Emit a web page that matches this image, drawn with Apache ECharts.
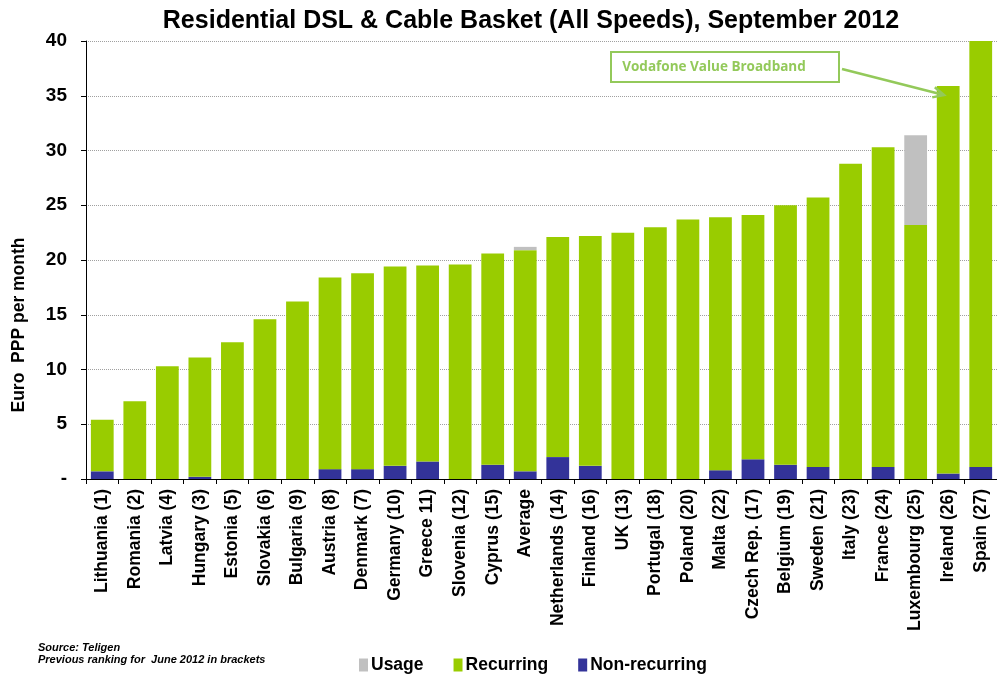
<!DOCTYPE html>
<html>
<head>
<meta charset="utf-8">
<script src="https://cdn.jsdelivr.net/npm/echarts@6/dist/echarts.min.js"></script>
<style>
html,body{margin:0;padding:0;background:#fff;}
#c{width:997px;height:675px;}
</style>
</head>
<body>
<div id="c"></div>
<script>
const categories = ['Lithuania (1)','Romania (2)','Latvia (4)','Hungary (3)','Estonia (5)','Slovakia (6)','Bulgaria (9)','Austria (8)','Denmark (7)','Germany (10)','Greece 11)','Slovenia (12)','Cyprus (15)','Average','Netherlands (14)','Finland (16)','UK (13)','Portugal (18)','Poland (20)','Malta (22)','Czech Rep. (17)','Belgium (19)','Sweden (21)','Italy (23)','France (24)','Luxembourg (25)','Ireland (26)','Spain (27)'];
const nonRecurring = [0.7,0,0,0.2,0,0,0,0.9,0.9,1.2,1.6,0,1.3,0.7,2.0,1.2,0,0,0,0.8,1.8,1.3,1.1,0,1.1,0,0.5,1.1];
const recurring    = [4.7,7.1,10.3,10.9,12.5,14.6,16.2,17.5,17.9,18.2,17.9,19.6,19.3,20.2,20.1,21.0,22.5,23.0,23.7,23.1,22.3,23.7,24.6,28.8,29.2,23.2,35.4,38.9];
const usage        = [0,0,0,0,0,0,0,0,0,0,0,0,0,0.3,0,0,0,0,0,0,0,0,0,0,0,8.2,0,0];
const yTicks = [0,5,10,15,20,25,30,35,40];

const chart = echarts.init(document.getElementById('c'));
const FONT = 'Liberation Sans, Arial, sans-serif';
const NARROW = '"Liberation Sans Narrow", "Arial Narrow", Liberation Sans, sans-serif';
const annGreen = '#93c95a';

function arrowHead(x1,y1,x2,y2,len,ang){
  const a = Math.atan2(y2-y1,x2-x1);
  return [[x2-len*Math.cos(a-ang), y2-len*Math.sin(a-ang)],[x2,y2],[x2-len*Math.cos(a+ang), y2-len*Math.sin(a+ang)]];
}

chart.setOption({
  animation:false,
  backgroundColor:'#fff',
  title:{
    text:'Residential DSL & Cable Basket (All Speeds), September 2012',
    left:526, top:4, textAlign:'center',
    textStyle:{fontFamily:FONT,fontWeight:'bold',fontSize:25,color:'#000'}
  },
  legend:{
    data:['Usage','Recurring','Non-recurring'],
    left:354, top:651,
    itemWidth:9, itemHeight:13, itemGap:30,
    icon:'rect',
    textStyle:{fontFamily:FONT,fontWeight:'bold',fontSize:17.5,color:'#000',padding:[0,0,0,-2]}
  },
  grid:{left:86, top:41, width:920, height:438, containLabel:false},
  xAxis:{
    type:'category',
    data:categories,
    axisLine:{lineStyle:{color:'#000',width:1}},
    axisTick:{show:true,length:5,lineStyle:{color:'#000'}},
    axisLabel:{rotate:90,interval:0,margin:10,fontFamily:FONT,fontWeight:'bold',fontSize:17.5,color:'#000'}
  },
  yAxis:{
    type:'value', min:0, max:40, interval:5,
    axisLine:{show:true,lineStyle:{color:'#000',width:1}},
    axisTick:{show:true,length:5,lineStyle:{color:'#000'}},
    axisLabel:{margin:19,fontFamily:FONT,fontWeight:'bold',fontSize:19,color:'#000',
      formatter:v=>v===yTicks[0]?'-':String(v)},
    splitLine:{show:true,lineStyle:{color:'#a0a0a0',type:[1,1],width:1}}
  },
  series:[
    {name:'Non-recurring',type:'bar',stack:'t',data:nonRecurring,barCategoryGap:'30%',itemStyle:{color:'#333399'}},
    {name:'Recurring',type:'bar',stack:'t',data:recurring,itemStyle:{color:'#99cc00'}},
    {name:'Usage',type:'bar',stack:'t',data:usage,itemStyle:{color:'#c0c0c0'}}
  ],
  graphic:[
    {type:'text',x:19,y:325,rotation:Math.PI/2,style:{text:'Euro  PPP per month',fill:'#000',font:'bold 17.5px '+FONT,textAlign:'center',textVerticalAlign:'middle'},z:100},
    {type:'rect',shape:{x:611,y:52,width:228,height:30},style:{fill:'#fff',stroke:annGreen,lineWidth:2},z:100},
    {type:'text',x:714,y:67,style:{text:'Vodafone Value Broadband',fill:annGreen,font:'bold 13.5px "Open Sans", "Noto Sans", sans-serif',textAlign:'center',textVerticalAlign:'middle'},z:101},
    {type:'line',shape:{x1:842,y1:69,x2:944,y2:95},style:{stroke:annGreen,lineWidth:2.5},z:100},
    {type:'polyline',shape:{points:arrowHead(842,69,944,95,12,0.45)},style:{stroke:annGreen,lineWidth:2.5,fill:null},z:100},
    {type:'text',left:38,top:642,style:{text:'Source: Teligen\nPrevious ranking for  June 2012 in brackets',fill:'#000',font:'italic bold 11px '+NARROW,lineHeight:12},z:100}
  ]
});
</script>
</body>
</html>
